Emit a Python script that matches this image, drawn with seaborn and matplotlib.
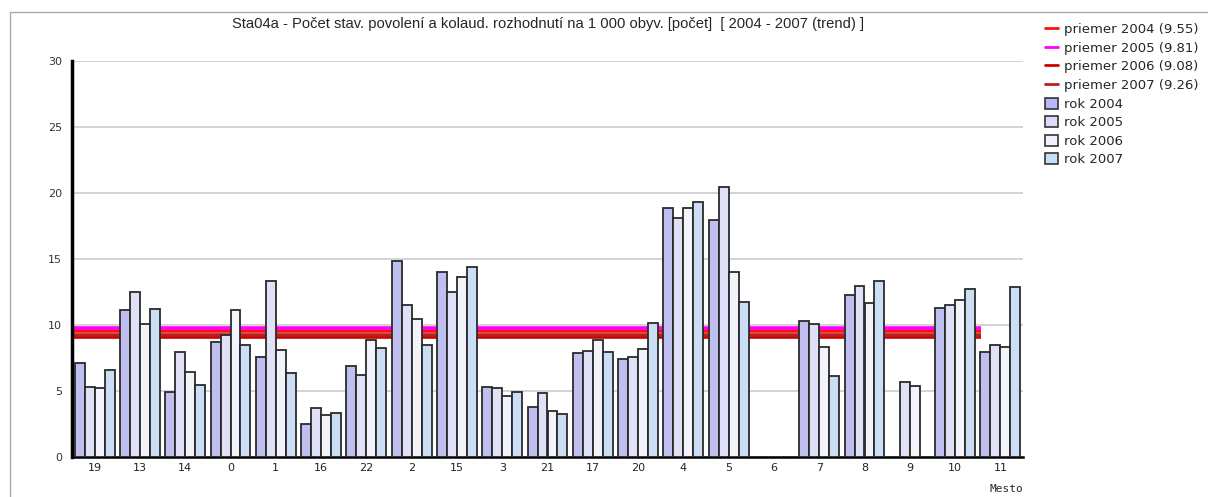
import numpy as np
import pandas as pd
import matplotlib
matplotlib.use("Agg")
import matplotlib.pyplot as plt
from matplotlib.lines import Line2D
from matplotlib.patches import Patch
from matplotlib.ticker import MultipleLocator, FixedLocator
import seaborn as sns

nan = np.nan
categories = ["19", "13", "14", "0", "1", "16", "22", "2", "15", "3", "21",
              "17", "20", "4", "5", "6", "7", "8", "9", "10", "11"]
r2004 = [7.10, 11.13, 4.96, 8.69, 7.55, 2.49, 6.87, 14.86, 14.00, 5.29, 3.80,
         7.86, 7.45, 18.86, 17.93, nan, 10.27, 12.24, nan, 11.28, 7.93]
r2005 = [5.32, 12.51, 7.93, 9.24, 13.35, 3.70, 6.25, 11.48, 12.49, 5.21, 4.83,
         8.01, 7.55, 18.13, 20.47, nan, 10.07, 12.99, 5.69, 11.51, 8.51]
r2006 = [5.21, 10.07, 6.45, 11.13, 8.11, 3.15, 8.84, 10.48, 13.65, 4.64, 3.45,
         8.86, 8.21, 18.86, 14.00, nan, 8.31, 11.66, 5.39, 11.93, 8.31]
r2007 = [6.62, 11.20, 5.49, 8.49, 6.35, 3.35, 8.29, 8.49, 14.38, 4.94, 3.25,
         7.93, 10.17, 19.34, 11.76, nan, 6.15, 13.35, nan, 12.69, 12.89]
years = ["rok 2004", "rok 2005", "rok 2006", "rok 2007"]
averages = [9.55, 9.81, 9.08, 9.26]
avg_labels = ["priemer 2004 (9.55)", "priemer 2005 (9.81)",
              "priemer 2006 (9.08)", "priemer 2007 (9.26)"]

bar_colors = ["#b8b8f8", "#dcdcfa", "#f2f2fc", "#c4defc"]
avg_colors = ["#ff1010", "#ff00ff", "#cc0000", "#b82020"]

rows = []
for yr, vals in zip(years, [r2004, r2005, r2006, r2007]):
    for c, v in zip(categories, vals):
        rows.append({"Mesto": c, "rok": yr, "v": v})
df = pd.DataFrame(rows).dropna()

sns.set_style("white")
plt.rcParams["font.family"] = ["DejaVu Sans"]

W, H = 1208, 497
fig = plt.figure(figsize=(W / 100, H / 100), dpi=100)
ax = fig.add_axes([72 / W, 1 - 457 / H, (1023 - 72) / W, (457 - 61) / H])

sns.barplot(data=df, x="Mesto", y="v", hue="rok", order=categories,
            hue_order=years, palette=bar_colors, width=0.88, gap=0,
            errorbar=None, edgecolor="#2a2a2a", linewidth=1.3, ax=ax,
            legend=False, zorder=3)

# average lines (behind bars)
for a, col in zip(averages, avg_colors):
    ax.plot([-0.47, 19.57], [a, a], color=col, lw=2.6, zorder=2,
            solid_capstyle="butt")

ax.set_xlim(-0.5, len(categories) - 0.5)
ax.set_ylim(0, 30)
ax.set_yticks([0, 5, 10, 15, 20, 25, 30])
ax.yaxis.set_minor_locator(MultipleLocator(1))
ax.grid(axis="y", color="#cccccc", lw=1.2, zorder=0)
ax.set_axisbelow(True)

ax.xaxis.set_minor_locator(FixedLocator(np.arange(-0.5, len(categories), 1.0)))
ax.tick_params(axis="x", which="major", length=0, labelsize=8, pad=4,
               colors="#222222")
ax.tick_params(axis="x", which="minor", length=5, width=1.2, direction="out",
               color="black")
ax.tick_params(axis="y", which="major", length=5, width=1.5, direction="out",
               labelsize=8, pad=2, colors="#333333")
ax.tick_params(axis="y", which="minor", length=3, width=1.2, direction="out",
               color="#222222")
for s in ["top", "right"]:
    ax.spines[s].set_visible(False)
ax.spines["left"].set_linewidth(2.5)
ax.spines["left"].set_color("black")
ax.spines["bottom"].set_linewidth(1.8)
ax.spines["bottom"].set_color("black")

ax.set_ylabel("")
ax.set_xlabel("Mesto", fontsize=8, family="DejaVu Sans Mono")
ax.xaxis.set_label_coords(1.0, -0.068)
ax.xaxis.label.set_horizontalalignment("right")

ax.set_title("Sta04a - Počet stav. povolení a kolaud. rozhodnutí na 1 000 obyv. [počet]  [ 2004 - 2007 (trend) ]",
             fontsize=10.6, family="Liberation Sans", pad=24)

# border lines of the chart frame
fig.add_artist(Line2D([10 / W, 1.0], [1 - 12 / H, 1 - 12 / H], color="#aaaaaa",
                      lw=1.0, transform=fig.transFigure))
fig.add_artist(Line2D([10 / W, 10 / W], [0, 1 - 12 / H], color="#aaaaaa",
                      lw=1.0, transform=fig.transFigure))

handles = [Line2D([0], [0], color=c, lw=2) for c in avg_colors]
handles += [Patch(facecolor=c, edgecolor="#333333", lw=1.2) for c in bar_colors]
labels = avg_labels + years
fig.legend(handles, labels, loc="upper left",
           bbox_to_anchor=(1040 / W, 1 - 18 / H), frameon=False,
           handlelength=1.0, handleheight=0.9,
           handletextpad=0.4, labelspacing=0.42, borderaxespad=0,
           prop={"family": "DejaVu Sans", "size": 9.5})

fig.savefig("out.png", dpi=100)
